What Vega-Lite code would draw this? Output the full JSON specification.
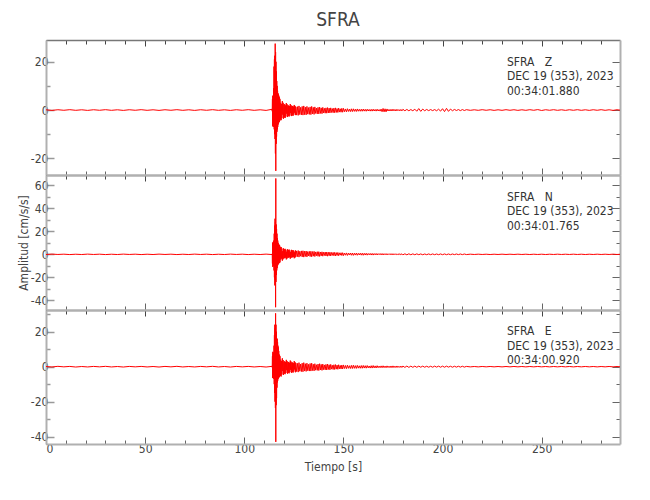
{
"$schema": "https://vega.github.io/schema/vega-lite/v6.json",
"background": "white",
"padding": {"left": 17, "top": 10, "right": 10, "bottom": 5},
"title": {"text": "SFRA", "fontSize": 19, "font": "DejaVu Sans Condensed", "fontWeight": "normal", "color": "#444", "anchor": "middle", "offset": 10, "dx": 19},
"config": {
  "view": {"stroke": null},
  "axis": {"labelFont": "DejaVu Sans Condensed", "titleFont": "DejaVu Sans Condensed", "labelColor": "#444", "titleColor": "#444", "titleFontWeight": "normal", "labelFontSize": 12, "titleFontSize": 12, "grid": false, "labelPadding": 3}
},
"spacing": 0,
"bounds": "flush",
"datasets": {
"w": [
{"t":0,"Z":0.1,"N":-0.15,"E":0.1},{"t":3,"Z":-0.15,"N":0.2,"E":-0.15},{"t":6,"Z":0.12,"N":-0.1,"E":0.2},{"t":9,"Z":-0.1,"N":0.15,"E":-0.1},
{"t":12,"Z":0.15,"N":-0.2,"E":0.15},{"t":15,"Z":-0.12,"N":0.1,"E":-0.2},{"t":18,"Z":0.1,"N":-0.15,"E":0.1},{"t":21,"Z":-0.15,"N":0.2,"E":-0.15},
{"t":24,"Z":0.12,"N":-0.12,"E":0.15},{"t":27,"Z":-0.1,"N":0.15,"E":-0.1},{"t":30,"Z":0.15,"N":-0.2,"E":0.2},{"t":33,"Z":-0.12,"N":0.1,"E":-0.15},
{"t":36,"Z":0.1,"N":-0.15,"E":0.1},{"t":39,"Z":-0.15,"N":0.2,"E":-0.2},{"t":42,"Z":0.12,"N":-0.1,"E":0.15},{"t":45,"Z":-0.1,"N":0.15,"E":-0.1},
{"t":48,"Z":0.15,"N":-0.2,"E":0.15},{"t":51,"Z":-0.12,"N":0.12,"E":-0.15},{"t":54,"Z":0.1,"N":-0.15,"E":0.1},{"t":57,"Z":-0.15,"N":0.2,"E":-0.2},
{"t":60,"Z":0.12,"N":-0.1,"E":0.15},{"t":63,"Z":-0.1,"N":0.15,"E":-0.1},{"t":66,"Z":0.15,"N":-0.2,"E":0.2},{"t":69,"Z":-0.12,"N":0.1,"E":-0.15},
{"t":72,"Z":0.1,"N":-0.15,"E":0.1},{"t":75,"Z":-0.15,"N":0.2,"E":-0.15},{"t":78,"Z":0.12,"N":-0.12,"E":0.15},{"t":81,"Z":-0.1,"N":0.15,"E":-0.1},
{"t":84,"Z":0.15,"N":-0.2,"E":0.2},{"t":87,"Z":-0.12,"N":0.1,"E":-0.15},{"t":90,"Z":0.1,"N":-0.15,"E":0.1},{"t":93,"Z":-0.15,"N":0.2,"E":-0.2},
{"t":96,"Z":0.12,"N":-0.1,"E":0.15},{"t":99,"Z":-0.1,"N":0.15,"E":-0.1},{"t":102,"Z":0.15,"N":-0.2,"E":0.15},{"t":105,"Z":-0.12,"N":0.12,"E":-0.15},
{"t":108,"Z":0.1,"N":-0.15,"E":0.1},{"t":111,"Z":-0.15,"N":0.2,"E":-0.2},
{"t":114.0,"Z":0.3,"N":-0.2,"E":0.2},{"t":114.1,"Z":-0.5,"N":0.5,"E":-0.4},{"t":114.2,"Z":4.5,"N":-8,"E":6},{"t":114.3,"Z":-6.5,"N":10,"E":-6.5},
{"t":114.4,"Z":5.8,"N":-11,"E":8.5},{"t":114.5,"Z":-6.9,"N":10.5,"E":-6},{"t":114.6,"Z":6.2,"N":-10,"E":7.5},{"t":114.7,"Z":-5.5,"N":11,"E":-6.6},
{"t":114.8,"Z":9,"N":-9,"E":8},{"t":114.9,"Z":-7,"N":12,"E":-7},{"t":115.0,"Z":18,"N":-14,"E":12},{"t":115.1,"Z":-8,"N":18,"E":-10},
{"t":115.2,"Z":21,"N":-20,"E":18},{"t":115.3,"Z":-10,"N":25,"E":-15},{"t":115.4,"Z":22.5,"N":-27,"E":24},{"t":115.5,"Z":-12,"N":31,"E":-20},
{"t":115.6,"Z":27.5,"N":-22,"E":22},{"t":115.7,"Z":-18,"N":28,"E":-23.6},{"t":115.8,"Z":24,"N":-46,"E":30.5},{"t":115.9,"Z":-25.2,"N":66,"E":-43},
{"t":116.0,"Z":20,"N":-24,"E":24},{"t":116.1,"Z":-14,"N":26,"E":-22},{"t":116.2,"Z":16,"N":-18,"E":20},{"t":116.3,"Z":-11,"N":22,"E":-18},
{"t":116.4,"Z":12,"N":-14,"E":16},{"t":116.5,"Z":-9,"N":18,"E":-12},{"t":116.6,"Z":10,"N":-12,"E":16},{"t":116.7,"Z":-8,"N":14,"E":-9},
{"t":116.8,"Z":8,"N":-10,"E":14},{"t":116.9,"Z":-7,"N":12,"E":-8},{"t":117.0,"Z":7,"N":-9,"E":12},{"t":117.1,"Z":-6,"N":10,"E":-7},
{"t":117.2,"Z":6.5,"N":-8.5,"E":11},{"t":117.3,"Z":-5.5,"N":9,"E":-6.5},{"t":117.4,"Z":6,"N":-8,"E":9},{"t":117.5,"Z":-5,"N":8.5,"E":-6},
{"t":117.6,"Z":5.5,"N":-7.5,"E":7},{"t":117.7,"Z":-5,"N":8,"E":-6},{"t":117.8,"Z":5,"N":-7,"E":6.5},{"t":117.9,"Z":-4.5,"N":7.5,"E":-5.5},
{"t":118.0,"Z":4.5,"N":-7,"E":6},
{"t":118.2,"Z":-4.0,"N":6.1,"E":-5.3},{"t":118.4,"Z":3.0,"N":-4.6,"E":4.0},{"t":118.6,"Z":-4.2,"N":6.4,"E":-5.6},{"t":118.8,"Z":2.5,"N":-3.7,"E":3.2},
{"t":119.0,"Z":-3.4,"N":5.1,"E":-4.5},{"t":119.2,"Z":3.7,"N":-5.5,"E":4.8},{"t":119.4,"Z":-1.9,"N":2.8,"E":-2.5},{"t":119.6,"Z":3.0,"N":-4.3,"E":3.8},
{"t":119.8,"Z":-3.6,"N":5.2,"E":-4.7},{"t":120.0,"Z":2.3,"N":-3.3,"E":2.9},{"t":120.2,"Z":-3.1,"N":4.4,"E":-4.0},{"t":120.4,"Z":2.4,"N":-3.4,"E":3.1},
{"t":120.6,"Z":-3.3,"N":4.8,"E":-4.3},{"t":120.8,"Z":1.9,"N":-2.8,"E":2.6},{"t":121.0,"Z":-2.7,"N":4.0,"E":-3.6},{"t":121.2,"Z":2.9,"N":-4.4,"E":3.9},
{"t":121.4,"Z":-1.5,"N":2.3,"E":-2.0},{"t":121.6,"Z":2.4,"N":-3.6,"E":3.2},{"t":121.8,"Z":-2.9,"N":4.4,"E":-4.0},{"t":122.0,"Z":1.8,"N":-2.8,"E":2.5},
{"t":122.2,"Z":-2.5,"N":3.8,"E":-3.5},{"t":122.4,"Z":1.9,"N":-2.9,"E":2.7},{"t":122.6,"Z":-2.7,"N":4.2,"E":-3.8},{"t":122.8,"Z":1.6,"N":-2.5,"E":2.2},
{"t":123.0,"Z":-2.3,"N":3.4,"E":-3.1},{"t":123.2,"Z":2.5,"N":-3.8,"E":3.5},{"t":123.4,"Z":-1.3,"N":2.0,"E":-1.8},{"t":123.6,"Z":2.0,"N":-3.1,"E":2.9},
{"t":123.8,"Z":-2.5,"N":3.9,"E":-3.5},{"t":124.0,"Z":1.6,"N":-2.5,"E":2.3},{"t":124.2,"Z":-2.2,"N":3.4,"E":-3.1},{"t":124.4,"Z":1.7,"N":-2.6,"E":2.4},
{"t":124.6,"Z":-2.4,"N":3.7,"E":-3.4},{"t":124.8,"Z":1.4,"N":-2.2,"E":2.0},{"t":125.0,"Z":-1.9,"N":3.1,"E":-2.8},{"t":125.2,"Z":2.1,"N":-3.4,"E":3.2},
{"t":125.4,"Z":-1.1,"N":1.8,"E":-1.6},{"t":125.6,"Z":1.7,"N":-2.8,"E":2.6},{"t":125.8,"Z":-2.1,"N":3.4,"E":-3.2},{"t":126.0,"Z":1.3,"N":-2.2,"E":2.1},
{"t":126.4,"Z":-2.1,"N":3.0,"E":-2.8},{"t":126.8,"Z":1.4,"N":-2.0,"E":1.9},{"t":127.2,"Z":-2.2,"N":3.3,"E":-3.1},{"t":127.6,"Z":1.7,"N":-2.4,"E":2.3},
{"t":128.0,"Z":-1.9,"N":2.7,"E":-2.6},{"t":128.4,"Z":1.1,"N":-1.6,"E":1.5},{"t":128.8,"Z":-2.0,"N":3.0,"E":-2.8},{"t":129.2,"Z":1.5,"N":-2.2,"E":2.0},
{"t":129.6,"Z":-2.1,"N":3.1,"E":-2.9},{"t":130.0,"Z":1.7,"N":-2.4,"E":2.3},{"t":130.4,"Z":-1.9,"N":2.7,"E":-2.5},{"t":130.8,"Z":1.2,"N":-1.8,"E":1.7},
{"t":131.2,"Z":-2.0,"N":2.9,"E":-2.7},{"t":131.6,"Z":1.5,"N":-2.2,"E":2.0},{"t":132.0,"Z":-1.7,"N":2.4,"E":-2.3},{"t":132.4,"Z":1.0,"N":-1.4,"E":1.3},
{"t":132.8,"Z":-1.8,"N":2.6,"E":-2.5},{"t":133.2,"Z":1.3,"N":-1.9,"E":1.8},{"t":133.6,"Z":-1.9,"N":2.7,"E":-2.5},{"t":134.0,"Z":1.5,"N":-2.1,"E":2.0},
{"t":134.4,"Z":-1.6,"N":2.4,"E":-2.2},{"t":134.8,"Z":1.1,"N":-1.6,"E":1.4},{"t":135.2,"Z":-1.8,"N":2.6,"E":-2.4},{"t":135.6,"Z":1.3,"N":-1.9,"E":1.7},
{"t":136.0,"Z":-1.4,"N":2.1,"E":-2.0},{"t":136.4,"Z":0.8,"N":-1.2,"E":1.1},{"t":136.8,"Z":-1.6,"N":2.3,"E":-2.1},{"t":137.2,"Z":1.1,"N":-1.7,"E":1.5},
{"t":137.6,"Z":-1.6,"N":2.3,"E":-2.2},{"t":138.0,"Z":1.2,"N":-1.8,"E":1.7},{"t":138.4,"Z":-1.4,"N":2.0,"E":-1.9},{"t":138.8,"Z":0.9,"N":-1.3,"E":1.3},
{"t":139.2,"Z":-1.5,"N":2.2,"E":-2.1},{"t":139.6,"Z":1.1,"N":-1.6,"E":1.5},{"t":140.0,"Z":-1.2,"N":1.8,"E":-1.7},{"t":140.4,"Z":0.7,"N":-1.0,"E":1.0},
{"t":140.8,"Z":-1.3,"N":2.0,"E":-1.8},{"t":141.2,"Z":0.9,"N":-1.4,"E":1.3},{"t":141.6,"Z":-1.3,"N":2.0,"E":-1.9},{"t":142.0,"Z":1.0,"N":-1.6,"E":1.5},
{"t":142.4,"Z":-1.2,"N":1.8,"E":-1.6},{"t":142.8,"Z":0.8,"N":-1.2,"E":1.1},{"t":143.2,"Z":-1.2,"N":1.9,"E":-1.8},{"t":143.6,"Z":0.9,"N":-1.4,"E":1.3},
{"t":144.0,"Z":-1.0,"N":1.6,"E":-1.4},{"t":144.4,"Z":0.6,"N":-0.9,"E":0.8},{"t":144.8,"Z":-1.1,"N":1.7,"E":-1.6},{"t":145.2,"Z":0.8,"N":-1.2,"E":1.1},
{"t":145.6,"Z":-1.1,"N":1.7,"E":-1.6},{"t":146.0,"Z":0.9,"N":-1.4,"E":1.2},{"t":146.4,"Z":-1.0,"N":1.5,"E":-1.4},{"t":146.8,"Z":0.6,"N":-1.0,"E":0.9},
{"t":147.2,"Z":-1.0,"N":1.6,"E":-1.5},{"t":147.6,"Z":0.8,"N":-1.2,"E":1.1},{"t":148.0,"Z":-0.85,"N":1.3,"E":-1.2},{"t":148.4,"Z":0.5,"N":-0.7,"E":0.7},
{"t":148.8,"Z":-0.9,"N":1.4,"E":-1.3},{"t":149.2,"Z":0.7,"N":-1.0,"E":0.9},{"t":149.6,"Z":-0.9,"N":1.4,"E":-1.3},{"t":150.0,"Z":0.7,"N":-1.1,"E":1.0},
{"t":150.5,"Z":-0.7,"N":1.15,"E":-1.05},{"t":151.0,"Z":0.45,"N":-0.75,"E":0.7},{"t":151.5,"Z":-0.75,"N":1.25,"E":-1.15},{"t":152.0,"Z":0.55,"N":-0.95,"E":0.85},
{"t":152.5,"Z":-0.6,"N":1.05,"E":-0.95},{"t":153.0,"Z":0.35,"N":-0.6,"E":0.55},{"t":153.5,"Z":-0.65,"N":1.15,"E":-1.05},{"t":154.0,"Z":0.5,"N":-0.8,"E":0.75},
{"t":154.5,"Z":-0.65,"N":1.15,"E":-1.05},{"t":155.0,"Z":0.5,"N":-0.9,"E":0.85},{"t":155.5,"Z":-0.55,"N":1.0,"E":-0.95},{"t":156.0,"Z":0.35,"N":-0.65,"E":0.6},
{"t":156.5,"Z":-0.6,"N":1.1,"E":-1.0},{"t":157.0,"Z":0.45,"N":-0.8,"E":0.75},{"t":157.5,"Z":-0.5,"N":0.9,"E":-0.85},{"t":158.0,"Z":0.3,"N":-0.55,"E":0.5},
{"t":158.5,"Z":-0.5,"N":1.0,"E":-0.9},{"t":159.0,"Z":0.35,"N":-0.7,"E":0.65},{"t":159.5,"Z":-0.5,"N":1.0,"E":-0.9},{"t":160.0,"Z":0.4,"N":-0.8,"E":0.7},
{"t":160.5,"Z":-0.45,"N":0.9,"E":-0.8},{"t":161.0,"Z":0.3,"N":-0.6,"E":0.55},{"t":161.5,"Z":-0.5,"N":0.95,"E":-0.85},{"t":162.0,"Z":0.35,"N":-0.7,"E":0.65},
{"t":162.5,"Z":-0.4,"N":0.75,"E":-0.7},{"t":163.0,"Z":0.25,"N":-0.45,"E":0.4},{"t":163.5,"Z":-0.45,"N":0.8,"E":-0.8},{"t":164.0,"Z":0.3,"N":-0.6,"E":0.55},
{"t":164.5,"Z":-0.45,"N":0.8,"E":-0.8},{"t":165.0,"Z":0.35,"N":-0.65,"E":0.65},{"t":165.5,"Z":-0.4,"N":0.7,"E":-0.7},{"t":166.0,"Z":0.25,"N":-0.45,"E":0.45},
{"t":166.5,"Z":-0.45,"N":0.75,"E":-0.75},{"t":167.0,"Z":0.35,"N":-0.55,"E":0.55},{"t":167.5,"Z":-0.4,"N":0.65,"E":-0.6},{"t":168.0,"Z":0.2,"N":-0.35,"E":0.35},
{"t":168.5,"Z":-0.45,"N":0.7,"E":-0.6},{"t":169.0,"Z":0.4,"N":-0.5,"E":0.45},{"t":169.5,"Z":-0.7,"N":0.7,"E":-0.6},{"t":170.0,"Z":0.65,"N":-0.55,"E":0.5},
{"t":170.5,"Z":-0.75,"N":0.6,"E":-0.55},{"t":171.0,"Z":0.5,"N":-0.4,"E":0.35},{"t":171.5,"Z":-0.75,"N":0.65,"E":-0.6},{"t":172.0,"Z":0.45,"N":-0.5,"E":0.45},
{"t":172.5,"Z":-0.4,"N":0.55,"E":-0.5},{"t":173.0,"Z":0.25,"N":-0.3,"E":0.3},{"t":173.5,"Z":-0.4,"N":0.6,"E":-0.55},{"t":174.0,"Z":0.3,"N":-0.45,"E":0.4},
{"t":174.5,"Z":-0.4,"N":0.6,"E":-0.55},{"t":175.0,"Z":0.35,"N":-0.5,"E":0.45},{"t":175.5,"Z":-0.35,"N":0.55,"E":-0.5},{"t":176.0,"Z":0.25,"N":-0.35,"E":0.3},
{"t":176.5,"Z":-0.4,"N":0.55,"E":-0.5},{"t":177.0,"Z":0.3,"N":-0.4,"E":0.4},{"t":177.5,"Z":-0.3,"N":0.45,"E":-0.45},{"t":178.0,"Z":0.2,"N":-0.25,"E":0.25},
{"t":178.5,"Z":-0.35,"N":0.5,"E":-0.45},{"t":179.0,"Z":0.25,"N":-0.35,"E":0.35},{"t":179.5,"Z":-0.35,"N":0.5,"E":-0.45},{"t":180.0,"Z":0.3,"N":-0.4,"E":0.35},
{"t":181,"Z":-0.3,"N":0.45,"E":-0.4},{"t":182,"Z":0.25,"N":-0.4,"E":0.35},{"t":183,"Z":-0.3,"N":0.45,"E":-0.4},{"t":184,"Z":0.2,"N":-0.35,"E":0.3},
{"t":185,"Z":-0.3,"N":0.4,"E":-0.35},{"t":186,"Z":0.35,"N":-0.35,"E":0.3},{"t":187,"Z":-0.5,"N":0.4,"E":-0.35},{"t":188,"Z":0.6,"N":-0.3,"E":0.3},
{"t":189,"Z":-0.55,"N":0.35,"E":-0.3},{"t":190,"Z":0.4,"N":-0.35,"E":0.3},{"t":191,"Z":-0.3,"N":0.3,"E":-0.3},{"t":192,"Z":0.25,"N":-0.3,"E":0.25},
{"t":193,"Z":-0.25,"N":0.35,"E":-0.3},{"t":194,"Z":0.2,"N":-0.3,"E":0.25},{"t":195,"Z":-0.25,"N":0.35,"E":-0.3},{"t":196,"Z":0.2,"N":-0.3,"E":0.3},
{"t":197,"Z":-0.3,"N":0.3,"E":-0.25},{"t":198,"Z":0.35,"N":-0.3,"E":0.3},{"t":199,"Z":-0.45,"N":0.35,"E":-0.3},{"t":200,"Z":0.55,"N":-0.3,"E":0.3},
{"t":201,"Z":-0.65,"N":0.35,"E":-0.3},{"t":202,"Z":0.7,"N":-0.3,"E":0.3},{"t":203,"Z":-0.55,"N":0.3,"E":-0.25},{"t":204,"Z":0.4,"N":-0.3,"E":0.25},
{"t":205,"Z":-0.3,"N":0.3,"E":-0.3},{"t":206,"Z":0.25,"N":-0.25,"E":0.25},{"t":207,"Z":-0.2,"N":0.3,"E":-0.25},{"t":208,"Z":0.2,"N":-0.25,"E":0.25},
{"t":209,"Z":-0.25,"N":0.3,"E":-0.25},{"t":210,"Z":0.2,"N":-0.25,"E":0.25},{"t":211,"Z":-0.2,"N":0.3,"E":-0.25},
{"t":212,"Z":0.15,"N":-0.2,"E":0.15},
{"t":214,"Z":-0.12,"N":0.15,"E":-0.12},{"t":216,"Z":0.1,"N":-0.12,"E":0.1},{"t":218,"Z":-0.12,"N":0.15,"E":-0.12},{"t":220,"Z":0.14,"N":-0.12,"E":0.12},
{"t":222,"Z":-0.1,"N":0.12,"E":-0.1},{"t":224,"Z":0.12,"N":-0.15,"E":0.12},{"t":226,"Z":-0.14,"N":0.12,"E":-0.1},{"t":228,"Z":0.1,"N":-0.12,"E":0.1},
{"t":230,"Z":-0.12,"N":0.15,"E":-0.12},{"t":232,"Z":0.14,"N":-0.12,"E":0.1},{"t":234,"Z":-0.1,"N":0.12,"E":-0.1},{"t":236,"Z":0.12,"N":-0.12,"E":0.12},
{"t":238,"Z":-0.14,"N":0.15,"E":-0.1},{"t":240,"Z":0.1,"N":-0.12,"E":0.1},{"t":242,"Z":-0.12,"N":0.12,"E":-0.12},{"t":244,"Z":0.14,"N":-0.15,"E":0.1},
{"t":246,"Z":-0.1,"N":0.12,"E":-0.1},{"t":248,"Z":0.18,"N":-0.12,"E":0.12},{"t":250,"Z":-0.18,"N":0.12,"E":-0.1},{"t":252,"Z":0.12,"N":-0.15,"E":0.1},
{"t":254,"Z":-0.1,"N":0.12,"E":-0.12},{"t":256,"Z":0.14,"N":-0.12,"E":0.1},{"t":258,"Z":-0.12,"N":0.15,"E":-0.1},{"t":260,"Z":0.1,"N":-0.12,"E":0.12},
{"t":262,"Z":-0.14,"N":0.12,"E":-0.1},{"t":264,"Z":0.12,"N":-0.12,"E":0.1},{"t":266,"Z":-0.1,"N":0.15,"E":-0.12},{"t":268,"Z":0.14,"N":-0.12,"E":0.1},
{"t":270,"Z":-0.12,"N":0.12,"E":-0.1},{"t":272,"Z":0.1,"N":-0.15,"E":0.12},{"t":274,"Z":-0.14,"N":0.12,"E":-0.1},{"t":276,"Z":0.12,"N":-0.12,"E":0.1},
{"t":278,"Z":-0.1,"N":0.15,"E":-0.12},{"t":280,"Z":0.14,"N":-0.12,"E":0.1},{"t":282,"Z":-0.12,"N":0.12,"E":-0.1},{"t":284,"Z":0.1,"N":-0.12,"E":0.12},
{"t":286,"Z":-0.14,"N":0.15,"E":-0.1},{"t":288,"Z":0.12,"N":-0.12,"E":0.1},{"t":290,"Z":-0.1,"N":0.12,"E":-0.1}
]
},
"vconcat": [
{
  "width": 574, "height": 135,
  "layer": [
    {"data": {"name": "w"},
     "mark": {"type": "line", "color": "#ff0000", "strokeWidth": 1, "clip": true},
     "encoding": {
       "x": {"field": "t", "type": "quantitative", "scale": {"domain": [0, 289.5], "nice": false, "zero": false},
             "axis": {"orient": "bottom", "values": [0,10,20,30,40,50,60,70,80,90,100,110,120,130,140,150,160,170,180,190,200,210,220,230,240,250,260,270,280], "labels": false, "title": null, "domainColor": "#b0b0b0", "domainWidth": 2, "tickColor": "#666", "tickWidth": 1, "tickSize": {"condition": {"test": "datum.value % 50 === 0", "value": -7}, "value": -4}}},
       "y": {"field": "Z", "type": "quantitative", "scale": {"domain": [-26.9, 29], "nice": false, "zero": false},
             "axis": {"orient": "left", "values": [-20,-10,0,10,20], "labelExpr": "datum.value % 20 === 0 ? '' + datum.value : ''", "labelPadding": 6, "title": null, "domainColor": "#b0b0b0", "domainWidth": 2, "tickColor": "#999", "tickWidth": 1.5, "tickSize": {"condition": {"test": "datum.value % 20 === 0", "value": -8}, "value": -4}}}
     }},
    {"data": {"values": [{"c": "Z"}]},
     "mark": {"type": "text", "align": "left", "baseline": "top", "font": "DejaVu Sans Condensed", "fontSize": 12, "lineHeight": 14.5, "color": "#333", "text": ["SFRA\u00a0\u00a0\u00a0Z", "DEC 19 (353), 2023", "00:34:01.880"]},
     "encoding": {
       "x": {"datum": 232.5, "type": "quantitative", "axis": {"orient": "top", "values": [0,10,20,30,40,50,60,70,80,90,100,110,120,130,140,150,160,170,180,190,200,210,220,230,240,250,260,270,280], "labels": false, "title": null, "domainColor": "#777", "domainWidth": 1.5, "tickColor": "#444", "tickWidth": 1, "tickSize": {"condition": {"test": "datum.value % 50 === 0", "value": -6}, "value": -4}}},
       "y": {"datum": 22.1, "type": "quantitative", "axis": {"orient": "right", "values": [-20,-10,0,10,20], "labels": false, "title": null, "domainColor": "#b0b0b0", "domainWidth": 2, "tickColor": "#666", "tickWidth": 1, "tickSize": {"condition": {"test": "datum.value % 20 === 0", "value": -8}, "value": -4}}}
     }}
  ],
  "resolve": {"axis": {"x": "independent", "y": "independent"}}
},
{
  "width": 574, "height": 135,
  "layer": [
    {"data": {"name": "w"},
     "mark": {"type": "line", "color": "#ff0000", "strokeWidth": 1, "clip": true},
     "encoding": {
       "x": {"field": "t", "type": "quantitative", "scale": {"domain": [0, 289.5], "nice": false, "zero": false},
             "axis": {"orient": "bottom", "values": [0,10,20,30,40,50,60,70,80,90,100,110,120,130,140,150,160,170,180,190,200,210,220,230,240,250,260,270,280], "labels": false, "title": null, "domainColor": "#b0b0b0", "domainWidth": 2, "tickColor": "#666", "tickWidth": 1, "tickSize": {"condition": {"test": "datum.value % 50 === 0", "value": -7}, "value": -4}}},
       "y": {"field": "N", "type": "quantitative", "scale": {"domain": [-48.4, 69], "nice": false, "zero": false},
             "axis": {"orient": "left", "values": [-40,-30,-20,-10,0,10,20,30,40,50,60], "labelExpr": "datum.value % 20 === 0 ? '' + datum.value : ''", "labelPadding": 6, "title": "Amplitud [cm/s/s]", "titlePadding": 0, "domainColor": "#b0b0b0", "domainWidth": 2, "tickColor": "#999", "tickWidth": 1.5, "tickSize": {"condition": {"test": "datum.value % 20 === 0", "value": -8}, "value": -4}}}
     }},
    {"data": {"values": [{"c": "N"}]},
     "mark": {"type": "text", "align": "left", "baseline": "top", "font": "DejaVu Sans Condensed", "fontSize": 12, "lineHeight": 14.5, "color": "#333", "text": ["SFRA\u00a0\u00a0\u00a0N", "DEC 19 (353), 2023", "00:34:01.765"]},
     "encoding": {
       "x": {"datum": 232.5, "type": "quantitative", "axis": {"orient": "top", "values": [0,10,20,30,40,50,60,70,80,90,100,110,120,130,140,150,160,170,180,190,200,210,220,230,240,250,260,270,280], "labels": false, "title": null, "domainColor": "#b0b0b0", "domainWidth": 2, "tickColor": "#444", "tickWidth": 1, "tickSize": {"condition": {"test": "datum.value % 50 === 0", "value": -6}, "value": -4}}},
       "y": {"datum": 54.6, "type": "quantitative", "axis": {"orient": "right", "values": [-40,-30,-20,-10,0,10,20,30,40,50,60], "labels": false, "title": null, "domainColor": "#b0b0b0", "domainWidth": 2, "tickColor": "#666", "tickWidth": 1, "tickSize": {"condition": {"test": "datum.value % 20 === 0", "value": -8}, "value": -4}}}
     }}
  ],
  "resolve": {"axis": {"x": "independent", "y": "independent"}}
},
{
  "width": 574, "height": 134,
  "layer": [
    {"data": {"name": "w"},
     "mark": {"type": "line", "color": "#ff0000", "strokeWidth": 1, "clip": true},
     "encoding": {
       "x": {"field": "t", "type": "quantitative", "scale": {"domain": [0, 289.5], "nice": false, "zero": false},
             "axis": {"orient": "bottom", "values": [0,10,20,30,40,50,60,70,80,90,100,110,120,130,140,150,160,170,180,190,200,210,220,230,240,250,260,270,280], "labelExpr": "datum.value % 50 === 0 ? datum.label : ''", "labelPadding": 6, "title": "Tiempo [s]", "titlePadding": 7, "domainColor": "#b0b0b0", "domainWidth": 2, "tickColor": "#666", "tickWidth": 1, "tickSize": {"condition": {"test": "datum.value % 50 === 0", "value": -7}, "value": -4}}},
       "y": {"field": "E", "type": "quantitative", "scale": {"domain": [-44.2, 32.4], "nice": false, "zero": false},
             "axis": {"orient": "left", "values": [-40,-30,-20,-10,0,10,20,30], "labelExpr": "datum.value % 20 === 0 ? '' + datum.value : ''", "labelPadding": 6, "title": null, "domainColor": "#b0b0b0", "domainWidth": 2, "tickColor": "#999", "tickWidth": 1.5, "tickSize": {"condition": {"test": "datum.value % 20 === 0", "value": -8}, "value": -4}}}
     }},
    {"data": {"values": [{"c": "E"}]},
     "mark": {"type": "text", "align": "left", "baseline": "top", "font": "DejaVu Sans Condensed", "fontSize": 12, "lineHeight": 14.5, "color": "#333", "text": ["SFRA\u00a0\u00a0\u00a0E", "DEC 19 (353), 2023", "00:34:00.920"]},
     "encoding": {
       "x": {"datum": 232.5, "type": "quantitative", "axis": {"orient": "top", "values": [0,10,20,30,40,50,60,70,80,90,100,110,120,130,140,150,160,170,180,190,200,210,220,230,240,250,260,270,280], "labels": false, "title": null, "domainColor": "#b0b0b0", "domainWidth": 2, "tickColor": "#444", "tickWidth": 1, "tickSize": {"condition": {"test": "datum.value % 50 === 0", "value": -6}, "value": -4}}},
       "y": {"datum": 23.0, "type": "quantitative", "axis": {"orient": "right", "values": [-40,-30,-20,-10,0,10,20,30], "labels": false, "title": null, "domainColor": "#b0b0b0", "domainWidth": 2, "tickColor": "#666", "tickWidth": 1, "tickSize": {"condition": {"test": "datum.value % 20 === 0", "value": -8}, "value": -4}}}
     }}
  ],
  "resolve": {"axis": {"x": "independent", "y": "independent"}}
}
]
}
